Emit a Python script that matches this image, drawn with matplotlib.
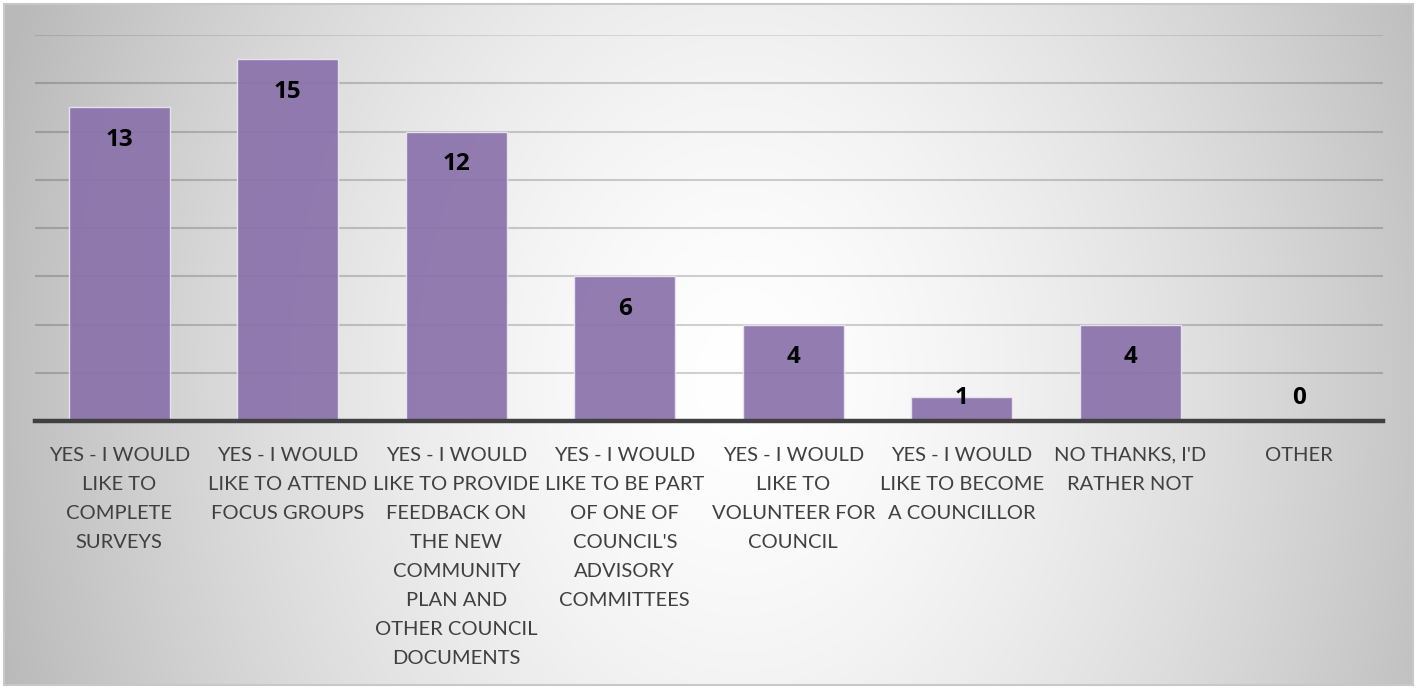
import numpy as np
import matplotlib
matplotlib.use("Agg")
import matplotlib.pyplot as plt
from matplotlib.patches import Rectangle

categories = [
    "YES - I WOULD\nLIKE TO\nCOMPLETE\nSURVEYS",
    "YES - I WOULD\nLIKE TO ATTEND\nFOCUS GROUPS",
    "YES - I WOULD\nLIKE TO PROVIDE\nFEEDBACK ON\nTHE NEW\nCOMMUNITY\nPLAN AND\nOTHER COUNCIL\nDOCUMENTS",
    "YES - I WOULD\nLIKE TO BE PART\nOF ONE OF\nCOUNCIL'S\nADVISORY\nCOMMITTEES",
    "YES - I WOULD\nLIKE TO\nVOLUNTEER FOR\nCOUNCIL",
    "YES - I WOULD\nLIKE TO BECOME\nA COUNCILLOR",
    "NO THANKS, I'D\nRATHER NOT",
    "OTHER",
]
values = [13, 15, 12, 6, 4, 1, 4, 0]

W, H = 1420, 689
fig = plt.figure(figsize=(W / 100, H / 100), dpi=100)
fig.patch.set_facecolor("white")

# background chart area with radial gradient
bx0, by0, bx1, by1 = 4, 4, 1413, 685
bg = fig.add_axes([bx0 / W, (H - by1) / H, (bx1 - bx0) / W, (by1 - by0) / H])
bg.set_axis_off()
xs = np.arange(bx0, bx1)
ys = np.arange(by0, by1)
X, Y = np.meshgrid(xs, ys)
cx, cy = 740, 380
r = np.sqrt(((X - cx) / 700.0) ** 2 + ((Y - cy) / 900.0) ** 2)
g = np.clip(255 - 60 * r ** 1.5, 185, 255) / 255.0
img = np.dstack([g, g, g])
bg.imshow(img, aspect="auto", extent=[0, 1, 0, 1], origin="upper")
bg.set_xlim(0, 1)
bg.set_ylim(0, 1)
bg.add_patch(Rectangle((0, 0), 1, 1, fill=False, edgecolor="#c8c8c8", linewidth=1.5,
                       transform=bg.transAxes, clip_on=False))

# main axes
left, right = 35 / W, 1383 / W
bottom, top = (H - 421) / H, (H - 35) / H
ax = fig.add_axes([left, bottom, right - left, top - bottom])
ax.set_facecolor("none")
ax.set_xlim(-0.5, len(categories) - 0.5)
ax.set_ylim(0, 16)

for yv in range(2, 17, 2):
    ax.axhline(yv, color="black", alpha=0.10 if yv == 16 else 0.18, linewidth=1.5, zorder=1)

x = np.arange(len(categories))
ax.bar(x, values, width=0.6, color="#8a71aa", alpha=0.92, edgecolor="#ece6f3",
       linewidth=1.0, zorder=2)

ax.axhline(0, color="#404040", linewidth=3.2, zorder=3, clip_on=False)

for xi, v in zip(x, values):
    ypos = max(v - 1.36, 0.96)
    ax.text(xi, ypos, str(v), ha="center", va="center", fontsize=17.5,
            fontweight="bold", color="black", family=["Open Sans", "DejaVu Sans"], zorder=4)

ax.set_xticks(x)
ax.set_xticklabels(categories, fontsize=14.5, color="#404040",
                   family=["Lato", "DejaVu Sans"], linespacing=1.86, va="top")
ax.tick_params(axis="x", length=0, pad=18.5)
ax.set_yticks([])
for s in ax.spines.values():
    s.set_visible(False)

fig.savefig("out.png", dpi=100, facecolor="white")
